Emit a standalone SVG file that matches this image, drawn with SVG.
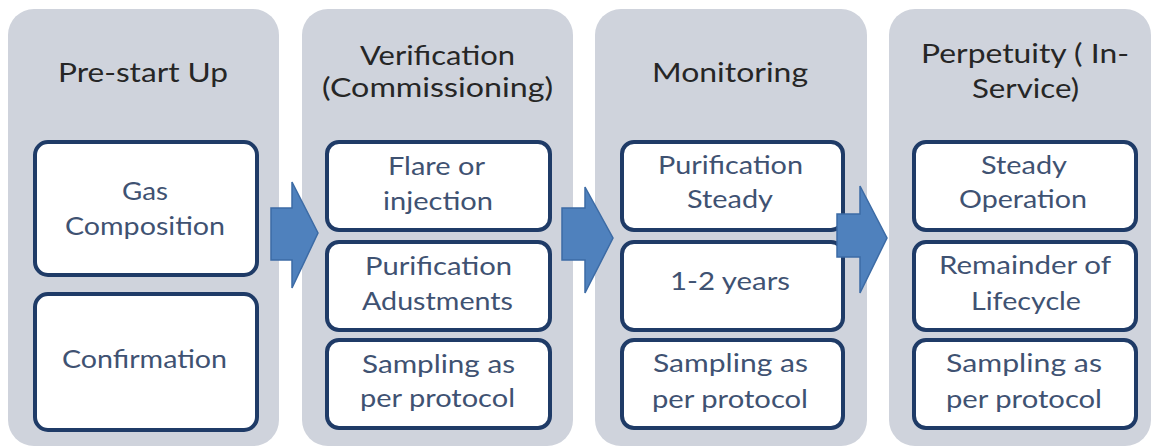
<svg xmlns="http://www.w3.org/2000/svg" width="1154" height="447" viewBox="0 0 1154 447">
<style>
.panel{fill:#CFD3DC;}
.box{fill:#FFFFFF;stroke:#1F3B67;stroke-width:4;}
.title{font-family:Lato,"Open Sans",sans-serif;font-size:26.5px;fill:#262626;text-anchor:middle;}
.txt{font-family:Lato,"Open Sans",sans-serif;font-size:25px;fill:#3F5272;text-anchor:middle;}
.arrow{fill:#4F81BD;stroke:#3C6BA5;stroke-width:1.5;stroke-linejoin:miter;}
</style>
<rect width="1154" height="447" fill="#FFFFFF"/>
<g id="stage-prestart">
<rect class="panel" x="8" y="9" width="271" height="437" rx="26"/>
<text class="title" x="143" y="82" textLength="170" lengthAdjust="spacingAndGlyphs">Pre-start Up</text>
<g id="gas-composition">
<rect class="box" x="35" y="142" width="222" height="133" rx="13"/>
<text class="txt" x="145" y="200" textLength="46" lengthAdjust="spacingAndGlyphs">Gas</text>
<text class="txt" x="145" y="235" textLength="160" lengthAdjust="spacingAndGlyphs">Composition</text>
</g>
<g id="confirmation">
<rect class="box" x="35" y="294" width="222" height="136" rx="13"/>
<text class="txt" x="144.5" y="368" textLength="165" lengthAdjust="spacingAndGlyphs">Confirmation</text>
</g>
</g>
<g id="stage-verification">
<rect class="panel" x="302" y="9" width="271" height="437" rx="26"/>
<text class="title" x="437.5" y="65" textLength="155" lengthAdjust="spacingAndGlyphs">Verification</text>
<text class="title" x="437.5" y="97" textLength="231" lengthAdjust="spacingAndGlyphs">(Commissioning)</text>
<g id="flare">
<rect class="box" x="327" y="142" width="223" height="88" rx="12"/>
<text class="txt" x="436.5" y="175" textLength="97" lengthAdjust="spacingAndGlyphs">Flare or</text>
<text class="txt" x="438" y="210" textLength="110" lengthAdjust="spacingAndGlyphs">injection</text>
</g>
<g id="purification-adj">
<rect class="box" x="327" y="242" width="223" height="88" rx="12"/>
<text class="txt" x="438.5" y="275" textLength="147" lengthAdjust="spacingAndGlyphs">Purification</text>
<text class="txt" x="437.5" y="310" textLength="151" lengthAdjust="spacingAndGlyphs">Adustments</text>
</g>
<g id="sampling-2">
<rect class="box" x="327" y="340" width="223" height="88" rx="12"/>
<text class="txt" x="438.5" y="373" textLength="153" lengthAdjust="spacingAndGlyphs">Sampling as</text>
<text class="txt" x="437.5" y="407" textLength="155" lengthAdjust="spacingAndGlyphs">per protocol</text>
</g>
</g>
<g id="stage-monitoring">
<rect class="panel" x="595" y="9" width="272" height="437" rx="26"/>
<text class="title" x="730" y="82" textLength="156" lengthAdjust="spacingAndGlyphs">Monitoring</text>
<g id="purification-steady">
<rect class="box" x="622" y="142" width="221" height="88" rx="12"/>
<text class="txt" x="730.5" y="174" textLength="145" lengthAdjust="spacingAndGlyphs">Purification</text>
<text class="txt" x="730" y="208" textLength="86" lengthAdjust="spacingAndGlyphs">Steady</text>
</g>
<g id="years">
<rect class="box" x="622" y="242" width="221" height="88" rx="12"/>
<text class="txt" x="730" y="290" textLength="120" lengthAdjust="spacingAndGlyphs">1-2 years</text>
</g>
<g id="sampling-3">
<rect class="box" x="622" y="340" width="221" height="88" rx="12"/>
<text class="txt" x="730.5" y="372" textLength="155" lengthAdjust="spacingAndGlyphs">Sampling as</text>
<text class="txt" x="730" y="408" textLength="156" lengthAdjust="spacingAndGlyphs">per protocol</text>
</g>
</g>
<g id="stage-perpetuity">
<rect class="panel" x="889" y="9" width="262" height="437" rx="26"/>
<text class="title" x="1025" y="63" textLength="208" lengthAdjust="spacingAndGlyphs">Perpetuity ( In-</text>
<text class="title" x="1025.5" y="98" textLength="107" lengthAdjust="spacingAndGlyphs">Service)</text>
<g id="steady-operation">
<rect class="box" x="914" y="142" width="222" height="88" rx="12"/>
<text class="txt" x="1024" y="174" textLength="86" lengthAdjust="spacingAndGlyphs">Steady</text>
<text class="txt" x="1023" y="208" textLength="128" lengthAdjust="spacingAndGlyphs">Operation</text>
</g>
<g id="remainder">
<rect class="box" x="914" y="242" width="222" height="88" rx="12"/>
<text class="txt" x="1025" y="274" textLength="172" lengthAdjust="spacingAndGlyphs">Remainder of</text>
<text class="txt" x="1026" y="310" textLength="110" lengthAdjust="spacingAndGlyphs">Lifecycle</text>
</g>
<g id="sampling-4">
<rect class="box" x="914" y="340" width="222" height="88" rx="12"/>
<text class="txt" x="1024" y="372" textLength="156" lengthAdjust="spacingAndGlyphs">Sampling as</text>
<text class="txt" x="1024" y="408" textLength="156" lengthAdjust="spacingAndGlyphs">per protocol</text>
</g>
</g>
<g id="connectors">
<polygon class="arrow" points="271,208 292,208 292,182 318,233 292,288 292,260 271,260"/>
<polygon class="arrow" points="562,208 585,208 585,187 613,238 585,293 585,260 562,260"/>
<polygon class="arrow" points="837,214 860,214 860,186 887,238 860,293 860,257 837,257"/>
</g>
</svg>
